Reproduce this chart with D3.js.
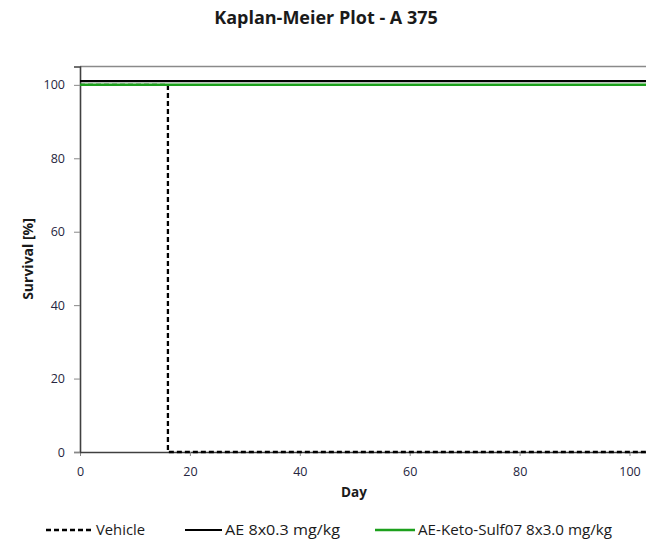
<!DOCTYPE html>
<html><head><meta charset="utf-8">
<script src="https://cdn.jsdelivr.net/npm/d3@7"></script>
<style>body{margin:0;background:#fff}svg{display:block}</style>
</head><body>
<svg id="c" width="646" height="539"></svg>
<script>
const title = "Kaplan-Meier Plot - A 375";
const xTicks = [0, 20, 40, 60, 80, 100];
const yTicks = [0, 20, 40, 60, 80, 100];
const seriesNames = ["Vehicle", "AE 8x0.3 mg/kg", "AE-Keto-Sulf07 8x3.0 mg/kg"];
const vehicleDays = [0, 16, 16, 105];
const vehicleSurv = [100, 100, 0, 0];
const aeDays = [0, 105];
const aeSurv = [101, 101];
const ketoDays = [0, 105];
const ketoSurv = [100, 100];

const svg = d3.select("#c");
const font = "'Open Sans', sans-serif";
const x = d3.scaleLinear().domain([0, 105]).range([80, 657]);
const y = d3.scaleLinear().domain([0, 105]).range([452, 66.5]);

// top border
svg.append("line").attr("x1", 80).attr("x2", 646).attr("y1", 66.5).attr("y2", 66.5)
  .attr("stroke", "#8a8a8a").attr("stroke-width", 1.5);

const gx = svg.append("g").attr("transform", "translate(0,452)")
  .call(d3.axisBottom(x).tickValues(xTicks).tickSize(4).tickPadding(11));
const gy = svg.append("g").attr("transform", "translate(80,0)")
  .call(d3.axisLeft(y).tickValues(yTicks).tickSize(6).tickPadding(9));
[gx, gy].forEach(g => {
  g.select(".domain").attr("stroke", "#404040").attr("stroke-width", 1.6);
  g.selectAll(".tick line").attr("stroke", "#888").attr("stroke-width", 1);
  g.selectAll("text").attr("font-family", font).attr("font-size", 12.5).attr("fill", "#262640");
});
gx.select(".domain").attr("d", "M80,0.5H646");

const line = d3.line().x(d => x(d[0])).y(d => y(d[1]));
const clip = svg.append("clipPath").attr("id", "cl").append("rect")
  .attr("x", 80).attr("y", 0).attr("width", 566).attr("height", 539);
const plot = svg.append("g").attr("clip-path", "url(#cl)");

plot.append("path").datum(d3.zip(vehicleDays, vehicleSurv)).attr("d", line)
  .attr("fill", "none").attr("stroke", "#000").attr("stroke-width", 2.3).attr("stroke-dasharray", "5,3");
plot.append("path").datum(d3.zip(aeDays, aeSurv)).attr("d", line)
  .attr("fill", "none").attr("stroke", "#000").attr("stroke-width", 2.2);
plot.append("path").datum(d3.zip(ketoDays, ketoSurv)).attr("d", line)
  .attr("fill", "none").attr("stroke", "#1ca01c").attr("stroke-width", 2.5);

svg.append("text").attr("x", 326).attr("y", 24).attr("text-anchor", "middle")
  .attr("font-family", font).attr("font-weight", "bold").attr("font-size", 18).attr("fill", "#1a1a1a")
  .text(title);
svg.append("text").attr("x", 354).attr("y", 497).attr("text-anchor", "middle")
  .attr("font-family", font).attr("font-weight", "bold").attr("font-size", 13.5).attr("fill", "#1a1a1a")
  .text("Day");
svg.append("text").attr("transform", "translate(33,259) rotate(-90)").attr("text-anchor", "middle")
  .attr("font-family", font).attr("font-weight", "bold").attr("font-size", 14).attr("fill", "#1a1a1a")
  .text("Survival [%]");

// legend
const legItems = [
  {x1: 46, x2: 92, tx: 96, color: "#000", dash: "5,3", w: 2.3},
  {x1: 185, x2: 222, tx: 225, color: "#000", dash: null, w: 2.2},
  {x1: 375, x2: 415, tx: 418, color: "#1ca01c", dash: null, w: 2.5}
];
legItems.forEach((it, i) => {
  svg.append("line").attr("x1", it.x1).attr("x2", it.x2).attr("y1", 530).attr("y2", 530)
    .attr("stroke", it.color).attr("stroke-width", it.w).attr("stroke-dasharray", it.dash);
  svg.append("text").attr("x", it.tx).attr("y", 535).attr("font-family", font)
    .attr("font-size", 15).attr("fill", "#1a1a1a").attr("textLength", [49, 115, 194][i])
    .attr("lengthAdjust", "spacingAndGlyphs").text(seriesNames[i]);
});
</script>
</body></html>
